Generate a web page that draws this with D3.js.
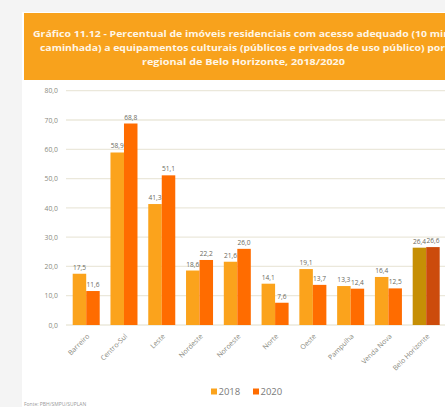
<!DOCTYPE html>
<html>
<head>
<meta charset="utf-8">
<script src="https://cdn.jsdelivr.net/npm/d3@7"></script>
<style>
  body { margin:0; background:#f4f4f4; }
  svg { display:block; }
</style>
</head>
<body>
<script>
var regionais = ["Barreiro", "Centro-Sul", "Leste", "Nordeste", "Noroeste", "Norte", "Oeste", "Pampulha", "Venda Nova", "Belo Horizonte"];
var anos = ["2018", "2020"];
var valores2018 = [17.5, 58.9, 41.3, 18.6, 21.6, 14.1, 19.1, 13.3, 16.4, 26.4];
var valores2020 = [11.6, 68.8, 51.1, 22.2, 26.0, 7.6, 13.7, 12.4, 12.5, 26.6];
var yTicks = [0, 10, 20, 30, 40, 50, 60, 70, 80];
var titulo = [
  "Gráfico 11.12 - Percentual de imóveis residenciais com acesso adequado (10 minutos de",
  "caminhada) a equipamentos culturais (públicos e privados de uso público) por",
  "regional de Belo Horizonte, 2018/2020"
];
var inicioTitulo = [33, 40, 142];
var larguraTitulo = [456, 405, 203];

var W = 445, H = 407;
var svg = d3.select("body").append("svg").attr("width", W).attr("height", H);

// painel branco
svg.append("rect").attr("x", 22).attr("y", 12).attr("width", W - 22).attr("height", H - 12).attr("fill", "#ffffff");

// cabeçalho
svg.append("rect").attr("x", 24).attr("y", 13).attr("width", 440).attr("height", 67).attr("fill", "#f8a21c");
svg.append("g").selectAll("text").data(titulo).enter().append("text")
  .attr("x", function(d, i){ return inicioTitulo[i]; })
  .attr("y", function(d, i){ return 36.5 + i * 14.3; })
  .attr("textLength", function(d, i){ return larguraTitulo[i]; })
  .attr("lengthAdjust", "spacingAndGlyphs")
  .attr("fill", "#fff6e6")
  .style("font-family", "'Open Sans', sans-serif")
  .style("font-weight", "bold")
  .style("font-size", "9.4px")
  .text(function(d){ return d; });

var y = d3.scaleLinear().domain([0, 80]).range([325, 90.7]);
var x0 = d3.scaleBand().domain(regionais).range([72.7, 439.7]).paddingInner(0.285).paddingOuter(0);
var x1 = d3.scaleBand().domain(anos).range([0, x0.bandwidth()]);

var fmt = function(v){ return d3.format(".1f")(v).replace(".", ","); };

// grade
svg.append("g").selectAll("line").data(yTicks).enter().append("line")
  .attr("x1", 66).attr("x2", W)
  .attr("y1", function(d){ return y(d); }).attr("y2", function(d){ return y(d); })
  .attr("stroke", "#ebe8db").attr("stroke-width", 1.3);

var yAxis = svg.append("g").attr("transform", "translate(58,0)")
  .call(d3.axisLeft(y).tickValues(yTicks).tickSize(0).tickFormat(fmt));
yAxis.select(".domain").remove();
yAxis.selectAll("text").attr("x", 0).attr("fill", "#8a8a80")
  .style("font-family", "'Open Sans', sans-serif").style("font-size", "6.8px");

var cores = {"2018": "#fba31c", "2020": "#ff6c00"};
var coresBH = {"2018": "#c68f05", "2020": "#cc4b0c"};

var dados = [];
regionais.forEach(function(r, i){
  dados.push({reg: r, ano: "2018", v: valores2018[i]});
  dados.push({reg: r, ano: "2020", v: valores2020[i]});
});

var bars = svg.append("g");
bars.selectAll("rect").data(dados).enter().append("rect")
  .attr("x", function(d){ return x0(d.reg) + x1(d.ano); })
  .attr("y", function(d){ return y(d.v); })
  .attr("width", x1.bandwidth())
  .attr("height", function(d){ return y(0) - y(d.v); })
  .attr("fill", function(d){ return d.reg === "Belo Horizonte" ? coresBH[d.ano] : cores[d.ano]; });

bars.selectAll("text").data(dados).enter().append("text")
  .attr("x", function(d){ return x0(d.reg) + x1(d.ano) + x1.bandwidth() / 2; })
  .attr("y", function(d){ return y(d.v) - 4; })
  .attr("text-anchor", "middle")
  .attr("fill", "#6a6a60")
  .style("font-family", "'Open Sans', sans-serif")
  .style("font-size", "6.6px")
  .text(function(d){ return fmt(d.v); });

// rótulos do eixo x
var xAxis = svg.append("g").attr("transform", "translate(0," + y(0) + ")")
  .call(d3.axisBottom(x0).tickSize(0));
xAxis.select(".domain").remove();
xAxis.selectAll("text")
  .attr("fill", "#8a8a80")
  .style("font-family", "'Open Sans', sans-serif").style("font-size", "7px")
  .attr("text-anchor", "end")
  .attr("transform", "translate(2,10) rotate(-45)")
  .attr("dy", "0.35em").attr("y", 0).attr("x", 0);

// legenda
var leg = svg.append("g").attr("transform", "translate(211,392)");
anos.forEach(function(a, i){
  var g = leg.append("g").attr("transform", "translate(" + (i * 42) + ",0)");
  g.append("rect").attr("x", 0).attr("y", -3.5).attr("width", 6).attr("height", 6).attr("fill", cores[a]);
  g.append("text").attr("x", 7.5).attr("y", 0).attr("dy", "0.35em")
    .attr("fill", "#7a7a7a")
    .style("font-family", "'Open Sans', sans-serif").style("font-size", "9.5px")
    .text(a);
});

// fonte
svg.append("text").attr("x", 24).attr("y", 406).attr("fill", "#999")
  .style("font-family", "'Open Sans', sans-serif").style("font-size", "5px")
  .text("Fonte: PBH/SMPU/SUPLAN");
</script>
</body>
</html>
